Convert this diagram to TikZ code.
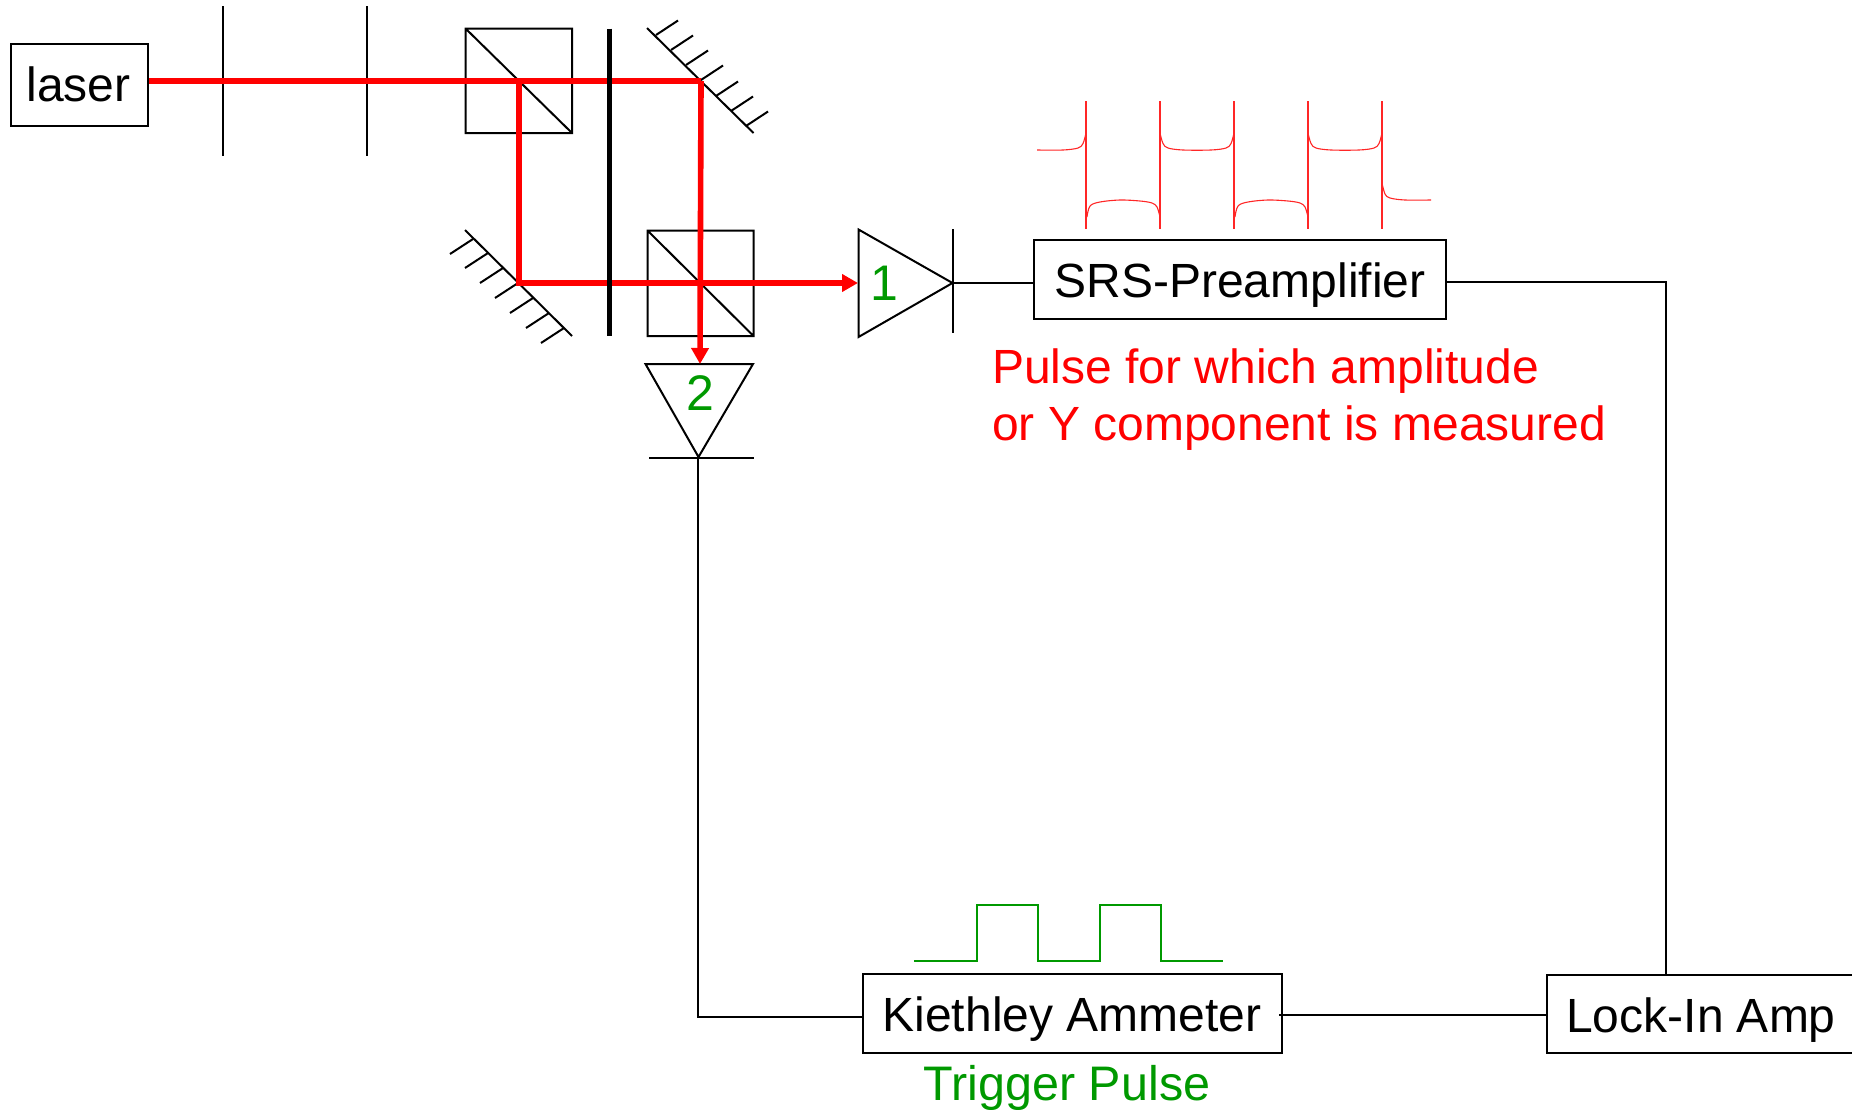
\documentclass[tikz,border=0pt]{standalone}
\usepackage{fontspec}
\setmainfont{Liberation Sans}
\usetikzlibrary{arrows.meta}
\definecolor{sigred}{RGB}{255,0,0}
\definecolor{siggreen}{RGB}{0,153,0}
\tikzset{
  x=1pt,y=-1pt,
  wire/.style={draw=black,line width=2pt},
  optic/.style={draw=black,line width=2pt,line join=miter},
  devbox/.style={draw=black,line width=2pt,inner sep=0pt,anchor=north west},
  devtext/.style={font=\fontsize{48}{56}\selectfont,inner sep=0pt,anchor=base},
  beam/.style={draw=sigred,line width=5.6pt},
  beamarrow/.style={beam,-{Triangle[length=16pt,width=17pt]}},
  redlabel/.style={text=sigred,font=\fontsize{48}{56}\selectfont,inner sep=0pt,anchor=base west},
  greenlabel/.style={text=siggreen,font=\fontsize{48.5}{56}\selectfont,inner sep=0pt},
  tinytrace/.style={draw=sigred!85,line width=1.1pt},
  gate/.style={draw=siggreen,line width=2pt},
}
\begin{document}
\begin{tikzpicture}
\useasboundingbox (0,0) rectangle (1852,1109);
% key positions
\coordinate (wp1t) at (223,6);      \coordinate (wp1b) at (223,156);
\coordinate (wp2t) at (367,6);      \coordinate (wp2b) at (367,156);
\coordinate (split1) at (519,81);
\coordinate (mirA) at (701,81);
\coordinate (mirB) at (519,283);
\coordinate (split2) at (700,283);
\coordinate (pdAa) at (858.5,229.5);  \coordinate (pdAb) at (858.5,337);  \coordinate (pdAapex) at (952.5,283);
\coordinate (pdBa) at (645.5,364);  \coordinate (pdBb) at (753,364);  \coordinate (pdBapex) at (698.5,457);
\coordinate (pdAin) at (858,283);
\coordinate (pdBin) at (700,364);
\coordinate (wireturnB) at (698,1017);
\coordinate (pdBtail) at (698,458);
\coordinate (wireturnA) at (1666,282);
% boxes
\node[devbox,minimum width=137pt,minimum height=82pt] (laser) at (10,43) {};
\node[devtext] (lasertext) at (78.5,101) {laser};
\node[devbox,minimum width=412pt,minimum height=79pt] (srs) at (1033,239) {};
\node[devtext] (srstext) at (1240,297) {SRS-Preamplifier};
\node[devbox,minimum width=419pt,minimum height=79pt] (amm) at (862,973) {};
\node[devtext] (ammtext) at (1072,1031) {Kiethley Ammeter};
\node[devbox,minimum width=320pt,minimum height=78pt] (lock) at (1546,974) {};
\node[devtext] (locktext) at (1701,1032) {Lock-In Amp};
% waveplates
\draw[optic] (wp1t) -- (wp1b);
\draw[optic] (wp2t) -- (wp2b);
% beam splitters
\draw[optic] (465.5,28.5) rectangle (572,133) (465.5,28.5) -- (572,133);
\draw[optic] (647.5,230.5) rectangle (753.5,336) (647.5,230.5) -- (753.5,336);
% mirrors
\draw[optic] (647,28) -- (753.5,133);
\foreach \a/\b in {656/35,671/50,686/65,701/80,716/96,731/111,746/126}
  \draw[optic] (\a,\b) -- ++(22,-14.5);
\draw[optic] (465,230) -- (572,336);
\foreach \a/\b in {473/239,488/253,503/268,518/283,533/298,549/313,564/328}
  \draw[optic] (\a,\b) -- ++(-23,15);
% photodiodes
\draw[optic] (pdAa) -- (pdAb) -- (pdAapex) -- cycle;
\draw[optic] (953,229) -- (953,333);
\draw[optic] (pdBa) -- (pdBb) -- (pdBapex) -- cycle;
\draw[optic] (649,458) -- (754,458);
% beams
\draw[beam] (laser.east |- split1) -- (mirA);
\draw[beam] (split1) -- (mirB) -- (split2);
\draw[beamarrow] (split2) -- (pdAin);
\draw[beamarrow] (mirA) -- (pdBin);
% thick plate
\draw[draw=black,line width=5.8pt] (609.5,28.5) -- (609.5,335.5);
% wires
\draw[wire] (pdAapex) -- (srs.west |- pdAapex);
\draw[wire] (srs.east |- wireturnA) -- (wireturnA) -- (wireturnA |- lock.north);
\draw[wire] (pdBtail) -- (wireturnB) -- (amm.west |- wireturnB);
\draw[wire] (1279,1015) -- (lock.west |- 0,1015);
% labels
\node[greenlabel,font=\fontsize{50}{56}\selectfont] (one) at (884.5,283) {1};
\node[greenlabel,font=\fontsize{50}{56}\selectfont] (two) at (700,393) {2};
\node[redlabel] (red1) at (992,383) {Pulse for which amplitude};
\node[redlabel] (red2) at (992,440.5) {or Y component is measured};
\node[greenlabel,anchor=base] (trig) at (1067,1100) {Trigger Pulse};
% measured pulse trace
\draw[tinytrace] plot[smooth,tension=0.55] coordinates {(1037,150) (1063,150) (1078,148) (1083,143.5) (1086,133)};
\foreach \p in {1160,1308}
  \draw[tinytrace] plot[smooth,tension=0.55] coordinates {(\p,133) (\p+3,143.5) (\p+8,148) (\p+23,150) (\p+51,150) (\p+66,148) (\p+71,143.5) (\p+74,133)};
\foreach \p in {1086,1234}
  \draw[tinytrace] plot[smooth,tension=0.55] coordinates {(\p+1,217) (\p+4,206) (\p+14,202) (\p+34,200) (\p+54,201) (\p+66,203) (\p+71,207) (\p+74,217)};
\draw[tinytrace] plot[smooth,tension=0.55] coordinates {(1382,183) (1385,194) (1390,198) (1405,200) (1431,200)};
\foreach \p in {1086,1160,1234,1308,1382}
  \draw[tinytrace] (\p,101) -- (\p,229);
% trigger pulse
\draw[gate] (914,961) -- (976.5,961) -- (976.5,904.5) -- (1038,904.5) -- (1038,961) -- (1100,961) -- (1100,904.5) -- (1161,904.5) -- (1161,961) -- (1223,961);
\end{tikzpicture}
\end{document}
